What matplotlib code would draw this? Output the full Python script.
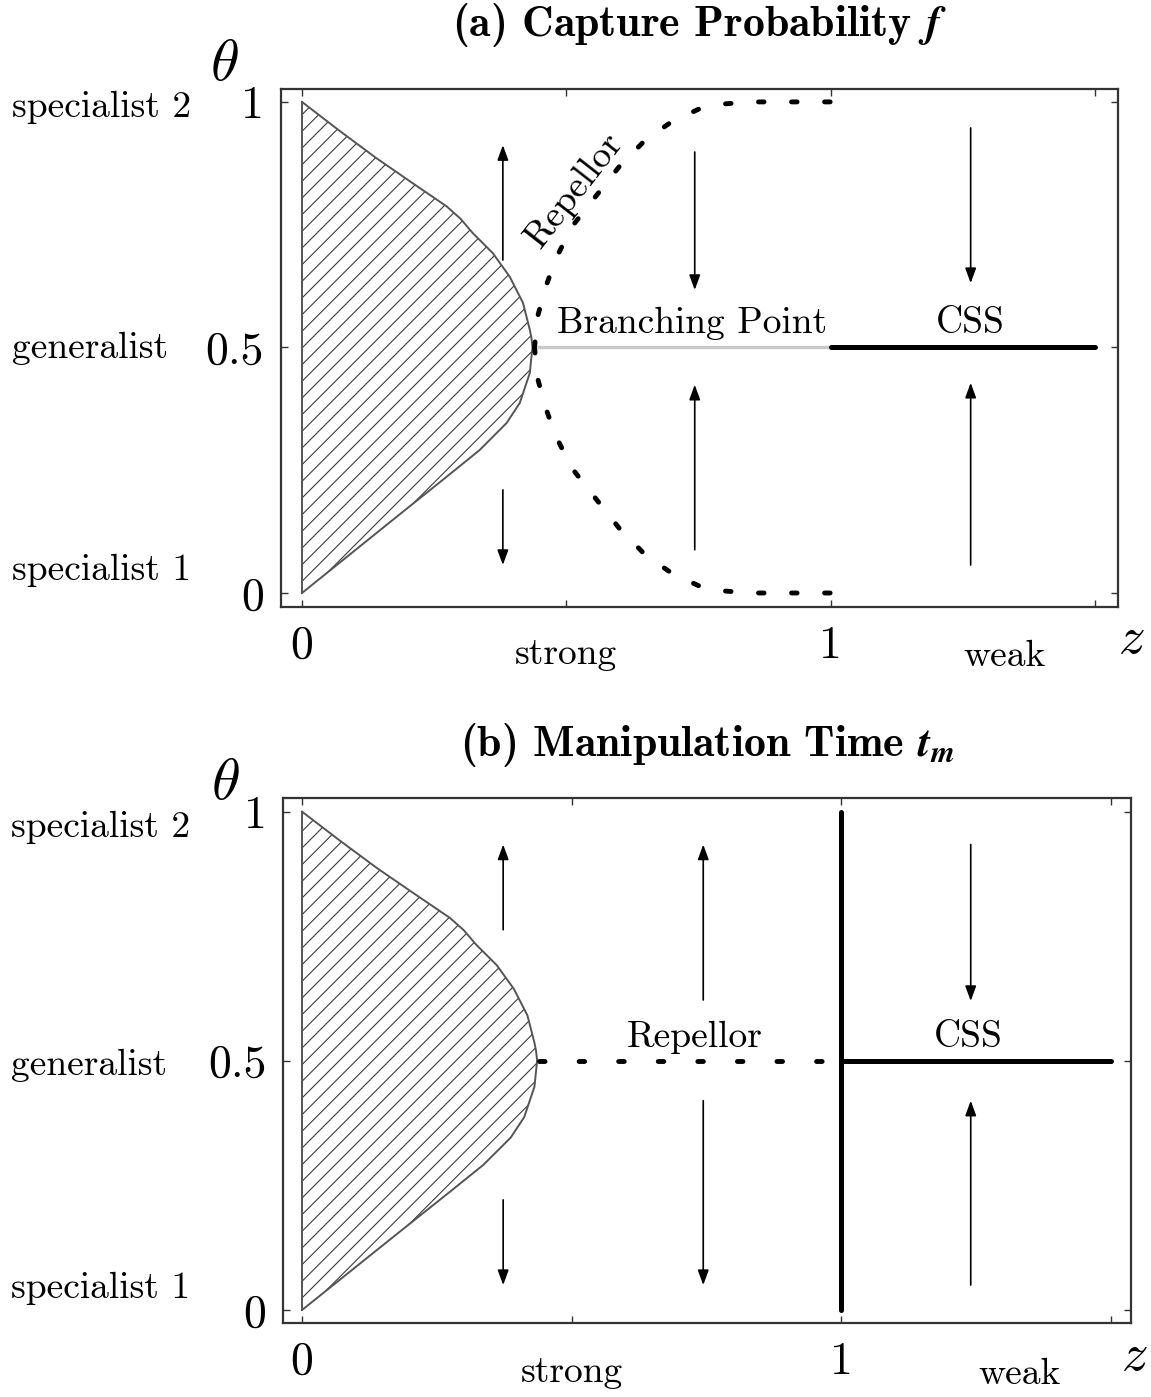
import matplotlib
matplotlib.use("Agg")
import matplotlib.pyplot as plt

plt.rcParams['font.family'] = 'cmr10'
plt.rcParams['mathtext.fontset'] = 'cm'
plt.rcParams['axes.unicode_minus'] = False
plt.rcParams['axes.formatter.use_mathtext'] = True
plt.rcParams['hatch.linewidth'] = 0.8
plt.rcParams['lines.scale_dashes'] = False

# outline of the hatched (excluded) region, traced from top (theta=1) to bottom (theta=0)
outline_z = [0.0, 0.07, 0.14, 0.21, 0.274, 0.30, 0.323, 0.361, 0.393, 0.418, 0.431, 0.434, 0.436,
             0.434, 0.431, 0.412, 0.387, 0.336, 0.274, 0.18, 0.09, 0.0]
outline_theta = [1.0, 0.942, 0.886, 0.834, 0.787, 0.762, 0.733, 0.692, 0.644, 0.591, 0.536, 0.52, 0.5,
                 0.48, 0.448, 0.387, 0.346, 0.291, 0.237, 0.156, 0.078, 0.0]

# repellor branches in panel (a)
rep_z = [0.44, 0.445, 0.46, 0.48, 0.51, 0.55, 0.60, 0.65, 0.70, 0.75, 0.80, 0.85, 0.90, 0.95, 1.0]
rep_theta_up = [0.5, 0.56, 0.62, 0.68, 0.745, 0.80, 0.868, 0.923, 0.96, 0.985, 0.996, 1.0, 1.0, 1.0, 1.0]
rep_theta_down = [1 - t for t in rep_theta_up]

branch_z = [0.445, 1.0]
css_z = [1.0, 1.5]
singular_theta = 0.5
repellor_b_z = [0.44, 1.0]
vertical_b_theta = [0.0, 1.0]

# arrows: (z, theta_start, theta_end)
arrows_a = [(0.38, 0.678, 0.912), (0.38, 0.21, 0.057),
            (0.743, 0.898, 0.617), (0.743, 0.088, 0.424),
            (1.265, 0.947, 0.631), (1.265, 0.057, 0.428)]
arrows_b = [(0.373, 0.763, 0.934), (0.373, 0.221, 0.05),
            (0.744, 0.622, 0.934), (0.744, 0.42, 0.05),
            (1.24, 0.934, 0.62), (1.24, 0.05, 0.42)]

ytick_vals = [0, 0.5, 1]
ytick_labels = ['0', '0.5', '1']
xtick_vals = [0, 0.5, 1, 1.5]
xtick_labels = ['0', '', '1', '']
side_labels = ['specialist 1', 'generalist', 'specialist 2']

FS = 27


def style_axes(ax, xlim, ylim):
    ax.set_xlim(*xlim)
    ax.set_ylim(*ylim)
    ax.set_xticks(xtick_vals)
    ax.set_xticklabels(xtick_labels, fontsize=33)
    ax.set_yticks(ytick_vals)
    ax.set_yticklabels(ytick_labels, fontsize=33)
    ax.tick_params(axis='both', direction='in', length=5, width=1, color='#333333',
                   top=True, right=True)
    ax.tick_params(axis='x', pad=13)
    ax.tick_params(axis='y', pad=12)
    for sp in ax.spines.values():
        sp.set_linewidth(1.6)
        sp.set_color('#333333')


def draw_region(ax):
    ax.fill(outline_z, outline_theta, facecolor='white', edgecolor='#3a3a3a',
            hatch='//', linewidth=0)
    ax.plot(outline_z, outline_theta, color='#555555', lw=1.4)
    ax.plot([0, 0], [0, 1], color='#555555', lw=1.4)


def draw_arrows(ax, arrows):
    for z, t0, t1 in arrows:
        ax.annotate('', xy=(z, t1), xytext=(z, t0),
                    arrowprops=dict(arrowstyle='-|>,head_length=0.6,head_width=0.22',
                                    color='black', lw=1.2, mutation_scale=15,
                                    shrinkA=0, shrinkB=0))


def side_text(ax, ys):
    for lab, y in zip(side_labels, ys):
        ax.text(-0.321, y, lab, transform=ax.get_yaxis_transform(),
                ha='left', va='center', fontsize=FS)


fig = plt.figure(figsize=(11.51, 13.97), dpi=100)

# ---------- panel (a)
ax = fig.add_axes([0.244, 0.5655, 0.727, 0.3707])
style_axes(ax, (-0.040, 1.543), (-0.0285, 1.026))
draw_region(ax)
dots = dict(color='black', lw=3.5, dash_capstyle='round', dashes=(4, 19.8))
ax.plot(rep_z, rep_theta_up, **dots)
ax.plot(rep_z, rep_theta_down, **dots)
ax.plot(branch_z, [singular_theta] * 2, color='#c8c8c8', lw=2.4, solid_capstyle='butt')
ax.plot(css_z, [singular_theta] * 2, color='black', lw=3.6, solid_capstyle='round')
draw_arrows(ax, arrows_a)
ax.text(0.737, 0.53, 'Branching Point', ha='center', va='baseline', fontsize=FS)
ax.text(1.265, 0.53, 'CSS', ha='center', va='baseline', fontsize=FS)
ax.text(0.515, 0.82, 'Repellor', ha='center', va='center', fontsize=FS, rotation=52)
ax.text(0.5, 1.1236, r'(a) Capture Probability $\mathbfit{f}$', transform=ax.transAxes,
        ha='center', va='center', fontsize=31.5, family='cmb10', math_fontfamily='stix')
ax.text(-0.067, 1.046, r'$\theta$', transform=ax.transAxes, ha='center', va='center', fontsize=42)
ax.text(1.016, -0.062, r'$z$', transform=ax.transAxes, ha='center', va='center', fontsize=38)
ax.text(0.5, -0.06, 'strong', transform=ax.get_xaxis_transform(), ha='center', va='top', fontsize=FS)
ax.text(1.33, -0.064, 'weak', transform=ax.get_xaxis_transform(), ha='center', va='top', fontsize=FS)
side_text(ax, [0.047, 0.499, 0.988])

# ---------- panel (b)
ax = fig.add_axes([0.246, 0.053, 0.737, 0.376])
style_axes(ax, (-0.035, 1.538), (-0.026, 1.028))
draw_region(ax)
ax.plot(repellor_b_z, [singular_theta] * 2, color='black', lw=3.5,
        dash_capstyle='round', dashes=(4, 24.5))
ax.plot([1.0, 1.0], vertical_b_theta, color='black', lw=3.6, solid_capstyle='round')
ax.plot(css_z, [singular_theta] * 2, color='black', lw=3.6, solid_capstyle='round')
draw_arrows(ax, arrows_b)
ax.text(0.729, 0.528, 'Repellor', ha='center', va='baseline', fontsize=FS)
ax.text(1.236, 0.528, 'CSS', ha='center', va='baseline', fontsize=FS)
ax.text(0.5, 1.101, r'(b) Manipulation Time $\mathbfit{t_m}$', transform=ax.transAxes,
        ha='center', va='center', fontsize=31.5, family='cmb10', math_fontfamily='stix')
ax.text(-0.068, 1.025, r'$\theta$', transform=ax.transAxes, ha='center', va='center', fontsize=42)
ax.text(1.004, -0.063, r'$z$', transform=ax.transAxes, ha='center', va='center', fontsize=38)
ax.text(0.5, -0.063, 'strong', transform=ax.get_xaxis_transform(), ha='center', va='top', fontsize=FS)
ax.text(1.33, -0.066, 'weak', transform=ax.get_xaxis_transform(), ha='center', va='top', fontsize=FS)
side_text(ax, [0.044, 0.49, 0.968])

fig.savefig('out.png', dpi=100)
